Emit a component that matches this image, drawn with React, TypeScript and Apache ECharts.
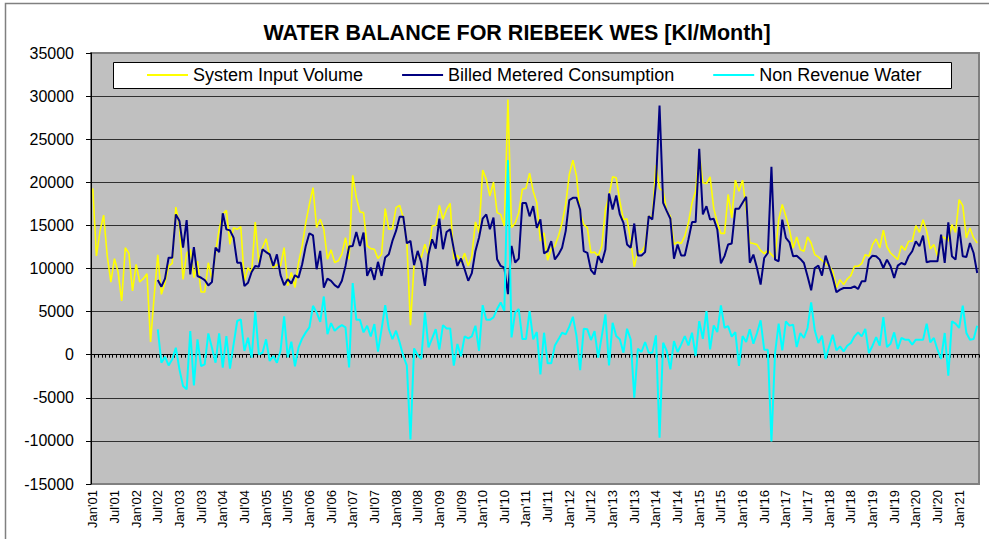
import React, { useEffect, useRef } from "react";
import * as echarts from "echarts";

const monthNames = ["Jan", "Feb", "Mar", "Apr", "May", "Jun", "Jul", "Aug", "Sep", "Oct", "Nov", "Dec"];
const firstYear = 2001;
const monthCount = 246; // Jan'01 .. Jun'21
const categories: string[] = Array.from({ length: monthCount }, (_, i) => {
  const yy = String((firstYear + Math.floor(i / 12)) % 100).padStart(2, "0");
  return `${monthNames[i % 12]}'${yy}`;
});

const titleText = "WATER BALANCE FOR RIEBEEK WES [Kl/Month]";
const seriesNames = ["System Input Volume", "Billed Metered Consumption", "Non Revenue Water"];
const yMin = -15000;
const yMax = 35000;
const yInterval = 5000;

const systemInputVolume: (number | null)[] = [
  19300, 11450, 14350, 16200, 11450, 8430, 11140, 9590, 6230, 12410,
  11760, 7390, 10480, 8430, 8820, 9400, 1470, 6810, 11600, 7000,
  8350, 10290, 10600, 17130, 14930, 8740, 11760, 12220, 8930, 10870,
  7270, 7270, 10670, 8740, 11830, 14540, 16280, 16740, 12800, 14730,
  14540, 14850, 8550, 10090, 9510, 15390, 10670, 12410, 13460, 11450,
  10090, 10480, 10300, 12420, 8000, 9530, 7800, 10690, 12620, 15320,
  17450, 19380, 14750, 15710, 14550, 11080, 12160, 10690, 10890, 11660,
  13590, 11080, 20800, 18220, 16560, 16480, 12620, 12310, 12240, 11160,
  11660, 16950, 14550, 14630, 17060, 17330, 15900, 13000, 3430, 10500,
  11660, 11270, 12820, 11460, 14940, 15010, 17330, 15710, 16870, 17560,
  11080, 11540, 10690, 11770, 10300, 11460, 15400, 14170, 21410, 20340,
  18410, 20020, 16480, 16280, 14940, 29600, 14750, 15250, 16480, 19200,
  19300, 21050, 18970, 17620, 13180, 14140, 10970, 12290, 12600, 13760,
  15300, 17430, 20900, 22570, 20710, 16460, 15110, 14720, 11820, 11900,
  11440, 12600, 16850, 18390, 20630, 20520, 17810, 15690, 15770, 13180,
  10200, 12020, 11900, 12670, 16070, 16000, 22000, 19300, 18970, 16650,
  16070, 12790, 13060, 12910, 13760, 15300, 17620, 18970, 23420, 19940,
  19860, 20630, 17040, 15300, 14070, 14070, 18590, 15880, 20250, 18970,
  20250, 16850, 12980, 12900, 12770, 12110, 11730, 12110, 11610, 11220,
  15670, 17420, 16060, 14510, 12380, 13660, 12190, 12000, 13660, 12960,
  11610, 11340, 10950, 10570, 10260, 9680, 7740, 8710, 8130, 8780,
  9170, 10260, 10260, 10570, 11610, 11420, 12770, 13430, 12380, 14440,
  12500, 11800, 11420, 11030, 12650, 12110, 13160, 13160, 14980, 14200,
  15670, 14320, 12270, 12770, 11420, 13740, 13550, 13160, 15090, 14200,
  18000, 17300, 13550, 14710, 13550, 12960,
];

const billedMeteredConsumption: (number | null)[] = [
  null, null, null, null, null, null, null, null, null, null,
  null, null, null, null, null, null, null, null, 8660, 7890,
  8820, 11250, 11250, 16280, 15510, 12410, 15620, 9320, 12490, 9130,
  8930, 8660, 8040, 8430, 12410, 11910, 16400, 14540, 14420, 13570,
  10670, 10670, 7970, 8350, 9590, 10290, 10210, 12220, 11910, 11640,
  10290, 11640, 9240, 8070, 8760, 8260, 9220, 8950, 10500, 12620,
  14080, 13850, 9920, 12040, 7790, 8830, 8570, 8070, 7790, 8570,
  10300, 12540, 12620, 14240, 12620, 14170, 9140, 10110, 8680, 10770,
  9140, 11270, 11660, 13200, 14360, 16010, 16010, 12930, 13200, 10380,
  12040, 10690, 7990, 11660, 13390, 12310, 15780, 12240, 14240, 14550,
  12240, 10300, 11160, 9920, 8570, 9460, 12040, 13590, 15780, 16280,
  14550, 15900, 11080, 10300, 10110, 7020, 12620, 10690, 11160, 17600,
  17600, 16050, 17230, 14720, 15690, 11750, 12020, 13180, 11050, 11630,
  12400, 14340, 17930, 18200, 18200, 16850, 12020, 11820, 9810, 9310,
  11440, 10660, 12210, 18700, 16850, 18470, 16270, 15300, 12790, 12400,
  15220, 11510, 11510, 11900, 16070, 15690, 19800, 28900, 17620, 16650,
  15770, 11130, 12790, 11510, 11510, 13370, 15380, 15380, 23880, 16270,
  17230, 15690, 15770, 14530, 10590, 11440, 12790, 12910, 16920, 16920,
  17620, 18320, 10660, 11610, 10060, 8130, 11220, 11800, 21790, 11030,
  10840, 15670, 13550, 13040, 11420, 11490, 11110, 10640, 9090, 7470,
  10060, 10330, 9170, 11490, 10260, 8900, 7240, 7550, 7740, 7740,
  7740, 7930, 7620, 8510, 8510, 11030, 11490, 11420, 11030, 10060,
  11030, 10260, 8900, 10330, 10640, 10450, 11420, 12000, 13160, 12580,
  13820, 10720, 10840, 10840, 10840, 13930, 10640, 15360, 11420, 11030,
  14820, 11420, 11340, 12960, 11800, 9480,
];

const nonRevenueWater: (number | null)[] = [
  null, null, null, null, null, null, null, null, null, null,
  null, null, null, null, null, null, null, null, 2940, -930,
  -230, -1240, -540, 810, -1700, -3630, -4020, 2750, -3560, 1780,
  -1310, -1120, 2470, 810, -930, 2470, -1510, 2170, -1620, 1200,
  3910, 4100, 430, 1970, -350, 4990, 40, 230, 1780, -730,
  -150, -930, 430, 4440, -310, 1500, -1350, 850, 1890, 2590,
  3160, 5670, 4900, 3820, 6750, 2390, 3670, 2780, 3160, 3430,
  3160, -1470, 8300, 4050, 4050, 2590, 3360, 2120, 3550, 350,
  2970, 5750, 2970, 1810, 2780, 1430, -120, -1270, -9840, 730,
  -40, -500, 4900, 850, 1890, 2970, 580, 3430, 3050, 3050,
  -1270, 1240, -190, 2120, 1890, 2120, 3360, 460, 5750, 4050,
  4050, 4320, 5290, 6060, 5090, 22570, 2010, 4900, 5290, 1810,
  1810, 5060, 1780, 2630, -2280, 2550, -1000, -1000, 1080, 1780,
  2550, 2360, 3250, 4400, 2160, -1780, 3010, 2940, 1700, 2740,
  -350, 2160, 4680, -1240, 3710, 2160, 1780, 230, 3010, 1780,
  -4980, 700, 310, 1470, 230, 230, 2240, -9620, 1390, 430,
  -1700, 1580, 310, 1200, 2160, 1080, 2550, -150, 3900, 1850,
  5060, 620, 3400, 2630, 5720, 3130, 3320, 2090, 2630, -1310,
  2160, 1470, 2940, 1280, 2520, 3990, 580, 580, -10060, 190,
  3600, 500, 3870, 3370, 3480, 890, 2520, 1940, 3100, 6080,
  2830, 1350, 2210, -500, 970, 2320, 500, 970, 390, 1040,
  1350, 2130, 2590, 2130, 2980, 190, 1040, 2050, 1040, 4370,
  890, 1280, 2590, 660, 1940, 1740, 1740, 1160, 1740, 1740,
  1740, 3600, 1430, 1940, 580, -500, 2520, -2440, 3870, 3600,
  3100, 5690, 2520, 1740, 1820, 3370,
];

const FONT = '"Liberation Sans", Arial, Helvetica, sans-serif';

export default function App() {
  const ref = useRef<HTMLDivElement>(null);

  useEffect(() => {
    if (!ref.current) return;
    const chart = echarts.init(ref.current, undefined, { renderer: "svg" });

    const splitColors: string[] = [];
    const nLines = Math.round((yMax - yMin) / yInterval) + 1;
    for (let k = 0; k < nLines; k++) {
      splitColors.push(k === 0 || k === nLines - 1 ? "#808080" : "#303030");
    }

    chart.setOption({
      animation: false,
      backgroundColor: "#ffffff",
      textStyle: { fontFamily: FONT },
      graphic: [
        {
          type: "rect",
          silent: true,
          z: 0,
          shape: { x: 5.5, y: 3.5, width: 1000, height: 600 },
          style: { fill: "none", stroke: "#808080", lineWidth: 1.5 },
        },
        {
          type: "text",
          x: 517,
          y: 32.5,
          z: 5,
          style: {
            text: titleText,
            font: `bold 21.5px ${FONT}`,
            fill: "#000000",
            textAlign: "center",
            textVerticalAlign: "middle",
          },
        },
        {
          type: "rect",
          silent: true,
          z: 5,
          shape: { x: 113.5, y: 62.5, width: 838, height: 26 },
          style: { fill: "#ffffff", stroke: "#000000", lineWidth: 1 },
        },
      ],
      legend: {
        left: 147,
        top: 66,
        padding: 0,
        itemGap: 39,
        itemWidth: 41,
        itemHeight: 2,
        icon: "rect",
        selectedMode: false,
        z: 10,
        data: seriesNames,
        textStyle: { fontSize: 18, color: "#000000", fontFamily: FONT },
      },
      grid: {
        left: 91,
        top: 53,
        right: 10,
        bottom: 55,
        show: true,
        backgroundColor: "#C0C0C0",
        borderColor: "#808080",
        borderWidth: 2,
        containLabel: false,
      },
      xAxis: [
        {
          type: "category",
          data: categories,
          position: "bottom",
          boundaryGap: true,
          axisLine: { show: false, onZero: false },
          axisTick: { show: false },
          axisLabel: {
            interval: 5,
            rotate: 90,
            fontSize: 13,
            color: "#000000",
            margin: 6,
            fontFamily: FONT,
          },
          splitLine: { show: false },
        },
        {
          type: "category",
          data: categories,
          position: "bottom",
          boundaryGap: true,
          axisLine: { show: true, onZero: true, lineStyle: { color: "#000000", width: 1 } },
          axisTick: { show: true, interval: 0, length: 3, lineStyle: { color: "#000000", width: 1 } },
          axisLabel: { show: false },
          splitLine: { show: false },
        },
      ],
      yAxis: {
        type: "value",
        min: yMin,
        max: yMax,
        interval: yInterval,
        axisLine: { show: true, lineStyle: { color: "#000000", width: 1 } },
        axisTick: { show: true, length: 5, lineStyle: { color: "#000000" } },
        axisLabel: {
          fontSize: 16,
          color: "#000000",
          margin: 17,
          fontFamily: FONT,
          formatter: (v: number) => String(v),
        },
        splitLine: { show: true, lineStyle: { color: splitColors, width: 1 } },
      },
      series: [
        {
          name: seriesNames[0],
          type: "line",
          data: systemInputVolume,
          symbol: "none",
          showSymbol: false,
          color: "#FFFF00",
          lineStyle: { color: "#FFFF00", width: 1.6 },
        },
        {
          name: seriesNames[1],
          type: "line",
          data: billedMeteredConsumption,
          symbol: "none",
          showSymbol: false,
          color: "#000080",
          lineStyle: { color: "#000080", width: 2 },
        },
        {
          name: seriesNames[2],
          type: "line",
          data: nonRevenueWater,
          symbol: "none",
          showSymbol: false,
          color: "#00FFFF",
          lineStyle: { color: "#00FFFF", width: 2 },
        },
      ],
    });

    return () => {
      chart.dispose();
    };
  }, []);

  return (
    <div
      ref={ref}
      style={{ position: "absolute", left: 0, top: 0, width: 989, height: 539 }}
    />
  );
}
